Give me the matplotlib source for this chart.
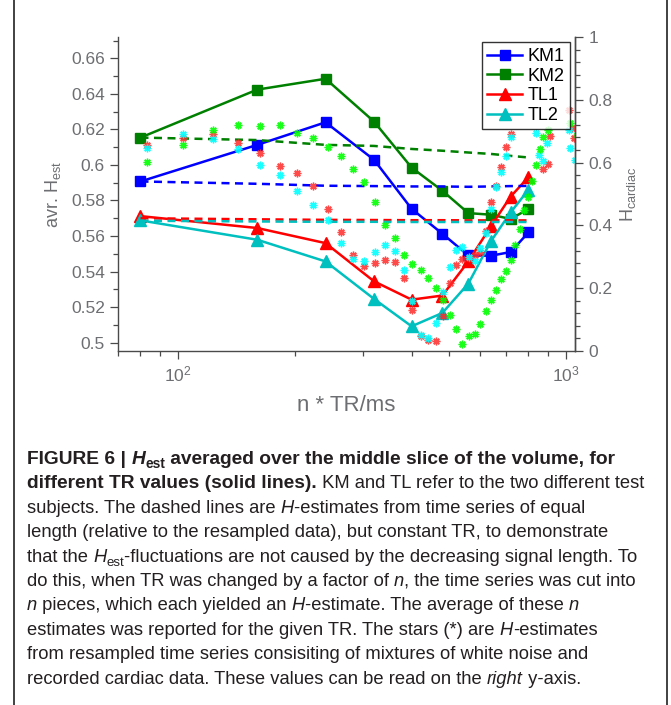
import matplotlib
matplotlib.use("Agg")
import matplotlib.pyplot as plt
from matplotlib.lines import Line2D
from matplotlib.ticker import MultipleLocator

plt.rcParams['font.family'] = ['Liberation Sans', 'DejaVu Sans']
plt.rcParams['mathtext.fontset'] = 'custom'
plt.rcParams['mathtext.rm'] = 'Liberation Sans'
plt.rcParams['mathtext.it'] = 'Liberation Sans:italic'
plt.rcParams['mathtext.bf'] = 'Liberation Sans:bold'

# ---- data: averaged H estimates vs n*TR (ms) ----
tr = [80, 160, 240, 320, 400, 480, 560, 640, 720, 800]
km1 = [0.5907, 0.6113, 0.6240, 0.6029, 0.5753, 0.5613, 0.5491, 0.5489, 0.5510, 0.5620]
km2 = [0.6154, 0.6424, 0.6485, 0.6244, 0.5985, 0.5855, 0.5729, 0.5720, 0.5696, 0.5752]
tl1 = [0.5712, 0.5645, 0.5560, 0.5345, 0.5242, 0.5265, 0.5457, 0.5654, 0.5822, 0.5931]
tl2 = [0.5688, 0.5579, 0.5457, 0.5246, 0.5092, 0.5167, 0.5332, 0.5570, 0.5733, 0.5860]

# dashed: equal length, constant TR
km1_d = [0.5907, 0.5894, 0.5883, 0.5881, 0.5879, 0.5879, 0.5877, 0.5879, 0.5881, 0.5882]
km2_d = [0.6154, 0.6140, 0.6113, 0.6107, 0.6090, 0.6080, 0.6070, 0.6062, 0.6051, 0.6042]
tl1_d = [0.5700, 0.5694, 0.5691, 0.5690, 0.5689, 0.5689, 0.5688, 0.5688, 0.5688, 0.5688]
tl2_d = [0.5686, 0.5682, 0.5680, 0.5680, 0.5679, 0.5679, 0.5679, 0.5679, 0.5679, 0.5679]

# stars: H of white noise / cardiac mixtures (right axis)
red_x = [83, 103, 123, 143, 163, 183, 203, 223, 243, 263, 282, 302, 322, 342, 362, 382,
         402, 422, 442, 461, 481, 501, 521, 541, 561, 581, 601, 621, 641, 660, 680, 700,
         720, 874, 897, 909, 1020, 1034, 1048]
red_h = [0.656, 0.679, 0.690, 0.664, 0.632, 0.589, 0.567, 0.524, 0.453, 0.379, 0.307, 0.272,
         0.281, 0.291, 0.284, 0.233, 0.132, 0.048, 0.036, 0.032, 0.111, 0.217, 0.275, 0.294,
         0.296, 0.307, 0.316, 0.381, 0.473, 0.526, 0.587, 0.651, 0.691, 0.580, 0.596, 0.684,
         0.767, 0.709, 0.677]
cyan_x = [83, 103, 123, 143, 163, 183, 203, 223, 243, 263, 282, 302, 322, 342, 362, 382,
          402, 422, 442, 461, 481, 501, 521, 541, 561, 581, 601, 621, 641, 660, 680, 700,
          720, 836, 852, 874, 895, 1020, 1024, 1055]
cyan_h = [0.648, 0.692, 0.675, 0.643, 0.592, 0.560, 0.510, 0.466, 0.416, 0.344, 0.293, 0.286,
          0.316, 0.337, 0.320, 0.259, 0.159, 0.050, 0.040, 0.088, 0.189, 0.267, 0.323, 0.330,
          0.300, 0.286, 0.329, 0.376, 0.452, 0.522, 0.571, 0.621, 0.680, 0.695, 0.624, 0.606,
          0.662, 0.704, 0.646, 0.609]
green_x = [83, 103, 123, 143, 163, 183, 203, 223, 243, 263, 282, 302, 322, 342, 362, 382,
           402, 422, 442, 461, 481, 501, 521, 541, 561, 581, 601, 621, 641, 660, 680, 700,
           720, 740, 760, 780, 800, 816, 836, 857, 874, 900, 1024, 1066]
green_h = [0.602, 0.655, 0.703, 0.720, 0.717, 0.719, 0.693, 0.677, 0.649, 0.620, 0.579, 0.537,
           0.475, 0.402, 0.360, 0.307, 0.277, 0.259, 0.231, 0.201, 0.161, 0.114, 0.071, 0.023,
           0.048, 0.053, 0.085, 0.127, 0.164, 0.193, 0.230, 0.254, 0.291, 0.339, 0.389, 0.450,
           0.492, 0.540, 0.593, 0.643, 0.681, 0.704, 0.725, 0.688]

gray = '#6d6e71'
spine_col = '#4a4a4a'

fig = plt.figure(figsize=(6.71, 7.05), dpi=100)
W, H = 671.0, 705.0
ax = fig.add_axes([118 / W, 1 - 351 / H, (575 - 118) / W, (351 - 37) / H])
ax2 = ax.twinx()

sty = dict(lw=1.8)
l1, = ax.plot(tr, km1, color='#0000ff', marker='s', ms=6.5, label='KM1', **sty)
l2, = ax.plot(tr, km2, color='#008000', marker='s', ms=6.5, label='KM2', **sty)
l3, = ax.plot(tr, tl1, color='#ff0000', marker='^', ms=8, label='TL1', **sty)
l4, = ax.plot(tr, tl2, color='#00bfbf', marker='^', ms=8, label='TL2', **sty)
dash = dict(lw=1.8, ls=(0, (3.2, 2.2)))
ax.plot(tr, km1_d, color='#0000ff', **dash)
ax.plot(tr, km2_d, color='#008000', **dash)
ax.plot(tr, tl1_d, color='#ff0000', **dash)
ax.plot(tr, tl2_d, color='#00bfbf', **dash)

star = dict(ls='none', marker=(8, 2, 0), ms=5.5, mew=1.0)
ax2.plot(red_x, red_h, color='#ff2a2a', alpha=0.85, **star)
ax2.plot(cyan_x, cyan_h, color='#00ffff', alpha=0.9, **star)
ax2.plot(green_x, green_h, color='#00ff00', alpha=0.9, **star)

ax.set_xscale('log')
ax.set_xlim(70, 1055)
ax.set_ylim(0.4953, 0.672)
ax2.set_ylim(0, 1)

ax.yaxis.set_major_locator(MultipleLocator(0.02))
ax.yaxis.set_minor_locator(MultipleLocator(0.01))
ax.set_yticklabels([f'{v:g}' for v in ax.get_yticks()])
ax2.yaxis.set_major_locator(MultipleLocator(0.2))
ax2.yaxis.set_minor_locator(MultipleLocator(0.04))
ax2.set_yticklabels([f'{v:g}' for v in ax2.get_yticks()])

for a in (ax, ax2):
    a.spines['top'].set_visible(False)
    for s in a.spines.values():
        s.set_color(spine_col)
        s.set_linewidth(1.0)
    a.tick_params(which='both', direction='out', color=spine_col, labelcolor=gray,
                  labelsize=12.5, width=0.9)
    a.tick_params(which='major', length=6)
    a.tick_params(which='minor', length=3.5)
ax2.spines['left'].set_visible(False)
ax2.spines['bottom'].set_visible(False)

ax.set_xlabel('n * TR/ms', fontsize=16, color=gray, labelpad=8)
ax.set_ylabel(r'avr. H$_\mathregular{est}$', fontsize=13, color=gray, labelpad=6)
ax2.set_ylabel(r'H$_\mathregular{cardiac}$', fontsize=13, color=gray, labelpad=4)

leg = ax2.legend(handles=[l1, l2, l3, l4], loc='upper right', fontsize=13, frameon=True,
                 fancybox=False, borderaxespad=0.3, handlelength=1.9, handletextpad=0.3,
                 labelspacing=0.15, borderpad=0.3)
leg.get_frame().set_edgecolor('black')
leg.get_frame().set_linewidth(1.0)

# figure panel border (left and right)
for xp in (14, 667):
    fig.add_artist(Line2D([xp / W, xp / W], [0, 1], transform=fig.transFigure,
                          color='#333333', lw=1.3))

# ---- caption ----
cap_font = ['Liberation Sans', 'DejaVu Sans']
cap_size = 13.2
bold_size = 13.8
cap_col = '#231f20'
rend = fig.canvas.get_renderer()


def text_width(txt, **kw):
    t = fig.text(0, 0, txt + '|', **kw)
    w1 = t.get_window_extent(renderer=rend).width
    t.remove()
    t = fig.text(0, 0, '|', **kw)
    w2 = t.get_window_extent(renderer=rend).width
    t.remove()
    return w1 - w2


def put_line(ypix, runs):
    x = 27.0
    for txt, style in runs:
        sub = 's' in style
        base = bold_size if 'b' in style else cap_size
        kw = dict(fontsize=base * (0.72 if sub else 1.0),
                  fontweight='bold' if 'b' in style else 'normal',
                  fontstyle='italic' if 'i' in style else 'normal',
                  family=cap_font, color=cap_col)
        yy = ypix + (4 if sub else 0)
        fig.text(x / W, 1 - yy / H, txt, va='baseline', ha='left', **kw)
        x += text_width(txt, **kw)


lines = [
    [('FIGURE 6 | ', 'b'), ('H', 'bi'), ('est', 'bs'),
     (' averaged over the middle slice of the volume, for', 'b')],
    [('different TR values (solid lines).', 'b'), (' KM and TL refer to the two different test', '')],
    [('subjects. The dashed lines are ', ''), ('H', 'i'), ('-estimates from time series of equal', '')],
    [('length (relative to the resampled data), but constant TR, to demonstrate', '')],
    [('that the ', ''), ('H', 'i'), ('est', 's'),
     ('-fluctuations are not caused by the decreasing signal length. To', '')],
    [('do this, when TR was changed by a factor of ', ''), ('n', 'i'), (', the time series was cut into', '')],
    [('n', 'i'), (' pieces, which each yielded an ', ''), ('H', 'i'),
     ('-estimate. The average of these ', ''), ('n', 'i')],
    [('estimates was reported for the given TR. The stars (*) are ', ''), ('H', 'i'), ('-estimates', '')],
    [('from resampled time series consisiting of mixtures of white noise and', '')],
    [('recorded cardiac data. These values can be read on the ', ''), ('right', 'i'), (' y-axis.', '')],
]
for i, runs in enumerate(lines):
    put_line(464 + 24.4 * i, runs)

fig.savefig('out.png', dpi=100)
